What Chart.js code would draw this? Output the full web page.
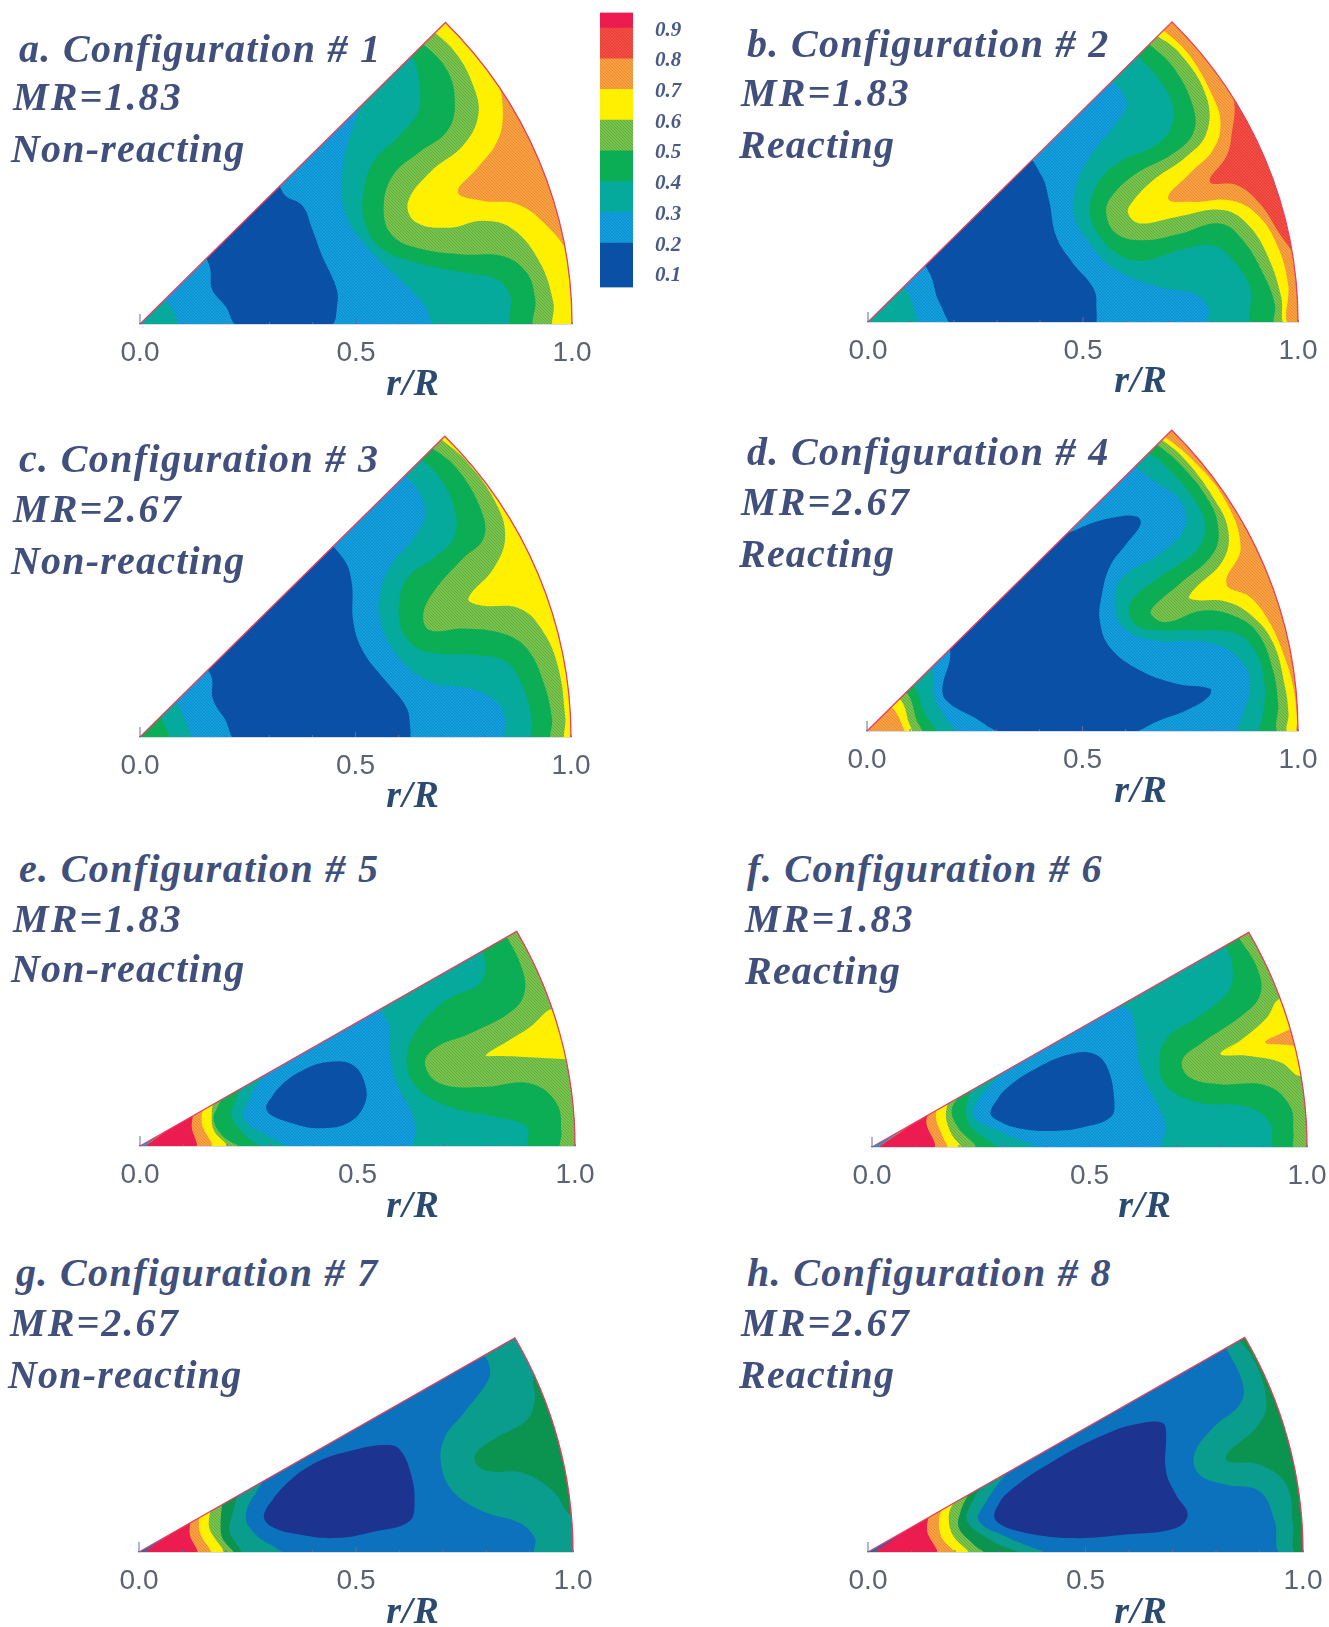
<!DOCTYPE html>
<html><head><meta charset="utf-8">
<script src="https://cdn.jsdelivr.net/npm/chart.js@4/dist/chart.umd.min.js"></script>
<style>
html,body{margin:0;padding:0;background:#fff}
#page{position:relative;width:1329px;height:1627px;overflow:hidden;background:#fff}
canvas{position:absolute;display:block}
.t{position:absolute;white-space:nowrap;font-family:"Liberation Serif",serif;font-weight:bold;font-style:italic;color:#404f7c;line-height:1;font-size:40px}
.rr{color:#2b4a70;font-size:38px;letter-spacing:1px}
</style></head><body><div id="page"></div>
<script>
// ---------- tick labels / categories ----------
const xTicks=[0,.1,.2,.3,.4,.5,.6,.7,.8,.9,1];
const xLabelled=[0,.5,1];
const barTicks=[.1,.2,.3,.4,.5,.6,.7,.8,.9];
const barEdges=[.063,.207,.307,.407,.507,.607,.707,.807,.907,.957];
const axisTitle='r/R';
const headA=['a. Configuration # 1','MR=1.83','Non-reacting'];
const headB=['b. Configuration # 2','MR=1.83','Reacting'];
const headC=['c. Configuration # 3','MR=2.67','Non-reacting'];
const headD=['d. Configuration # 4','MR=2.67','Reacting'];
const headE=['e. Configuration # 5','MR=1.83','Non-reacting'];
const headF=['f. Configuration # 6','MR=1.83','Reacting'];
const headG=['g. Configuration # 7','MR=2.67','Non-reacting'];
const headH=['h. Configuration # 8','MR=2.67','Reacting'];

// ---------- contour boundaries, in (r/R x, r/R y) ----------
const FAR=[[1.08,-.03],[1.08,.9],[.6,.9]];
const APEX=[[-.03,-.03]];
const BASE=[[-.1,-.1],[1.15,-.1],[1.15,1],[-.1,1]];

const a_apex=[[.03,.09],[.05,.057],[.074,.037],[.084,-.02]];
const a_dark=[[.151,.188],[.306,.336],[.337,.297],[.376,.274],[.399,.219],[.422,.157],[.453,.088],[.457,.049],[.438,-.005],[.229,-.005],[.198,.041],[.167,.08],[.163,.126]];
const a_teal=[[.531,.545],[.5,.475],[.469,.359],[.477,.25],[.531,.173],[.593,.111],[.655,.049],[.694,-.013]];
const a_green=[[.624,.63],[.64,.595],[.649,.529],[.64,.483],[.593,.429],[.539,.374],[.516,.297],[.523,.227],[.562,.173],[.64,.142],[.748,.119],[.826,.103],[.857,.064],[.864,-.013]];
const a_light=[[.632,.669],[.709,.591],[.729,.506],[.709,.444],[.647,.398],[.585,.343],[.564,.266],[.585,.204],[.655,.173],[.748,.161],[.841,.157],[.895,.119],[.915,.057],[.917,-.013]];
const a_yellow=[[.667,.688],[.729,.63],[.771,.553],[.783,.483],[.748,.413],[.671,.351],[.62,.281],[.64,.235],[.717,.223],[.795,.239],[.864,.219],[.926,.142],[.957,.049],[.961,-.013]];
const a_orange=[[.829,.584],[.84,.483],[.826,.421],[.779,.359],[.736,.305],[.795,.285],[.872,.278],[.934,.235],[.996,.157]];

const b_apex=[[.05,.11],[.085,.078],[.109,.027],[.112,-.02]];
const b_dark=[[.132,.163],[.36,.384],[.403,.341],[.421,.283],[.438,.198],[.477,.136],[.523,.081],[.531,.043],[.519,-.012],[.209,-.012],[.167,.043],[.15,.097]];
const b_teal=[[.554,.57],[.593,.531],[.601,.5],[.57,.453],[.516,.384],[.484,.314],[.481,.244],[.516,.182],[.578,.12],[.678,.081],[.756,.066],[.791,.035],[.795,-.012]];
const b_green=[[.616,.628],[.678,.562],[.709,.5],[.702,.446],[.663,.407],[.593,.376],[.539,.329],[.516,.26],[.539,.198],[.593,.151],[.647,.143],[.725,.167],[.802,.178],[.849,.143],[.888,.081],[.899,-.012]];
const b_light=[[.647,.651],[.709,.593],[.756,.5],[.756,.438],[.709,.391],[.624,.345],[.566,.291],[.554,.252],[.578,.205],[.64,.19],[.725,.205],[.818,.229],[.872,.19],[.919,.112],[.946,.043],[.95,-.012]];
const b_yellow=[[.663,.671],[.725,.624],[.787,.523],[.787,.438],[.74,.384],[.663,.329],[.612,.275],[.605,.252],[.632,.229],[.717,.244],[.826,.26],[.888,.221],[.934,.143],[.961,.058],[.973,-.012]];
const b_orange=[[.678,.686],[.744,.624],[.802,.523],[.82,.461],[.802,.399],[.748,.345],[.698,.287],[.756,.279],[.841,.283],[.903,.252],[.95,.182],[.977,.089],[.981,-.012]];
const b_red=[[.802,.609],[.849,.523],[.845,.43],[.833,.384],[.795,.326],[.857,.318],[.911,.275],[.957,.205],[1.004,.136]];

const c_apexTeal=[[.06,.11],[.088,.074],[.103,.043],[.115,-.02]];
const c_apexGreen=[[.03,.07],[.049,.043],[.067,-.02]];
const c_dark=[[.15,.19],[.425,.446],[.471,.415],[.491,.36],[.495,.267],[.518,.198],[.572,.128],[.611,.081],[.625,.043],[.615,-.012],[.231,-.012],[.196,.043],[.169,.089],[.167,.136]];
const c_teal=[[.591,.624],[.642,.578],[.661,.516],[.634,.461],[.588,.407],[.557,.337],[.56,.26],[.603,.182],[.673,.128],[.766,.112],[.828,.081],[.847,.043],[.851,-.012]];
const c_green=[[.642,.655],[.696,.601],[.731,.523],[.727,.461],[.681,.415],[.619,.368],[.6,.291],[.619,.229],[.665,.198],[.781,.19],[.851,.174],[.89,.112],[.909,.043],[.915,-.012]];
const c_light=[[.669,.678],[.735,.624],[.793,.523],[.797,.461],[.75,.415],[.681,.337],[.657,.283],[.673,.248],[.75,.252],[.843,.24],[.898,.205],[.936,.128],[.956,.043],[.958,-.012]];
const c_yellow=[[.696,.694],[.758,.64],[.828,.539],[.847,.461],[.82,.391],[.762,.322],[.789,.306],[.882,.298],[.936,.244],[.971,.159],[.987,.043],[.99,-.012]];

const d_dark=[[.432,.439],[.509,.478],[.579,.497],[.625,.498],[.635,.481],[.602,.435],[.563,.381],[.544,.311],[.54,.257],[.563,.195],[.633,.141],[.718,.11],[.796,.098],[.792,.079],[.741,.048],[.68,.025],[.602,-.006],[.324,-.006],[.246,.033],[.184,.071],[.175,.102],[.192,.164],[.2,.226]];
const d_lTeal=[[.146,.168],[.153,.133],[.157,.079],[.18,.033],[.204,-.006]];
const d_lGreen=[[.099,.118],[.118,.087],[.134,.04],[.157,-.006]];
const d_lLight=[[.08,.102],[.099,.079],[.115,.025],[.126,-.006]];
const d_lYellow=[[.064,.087],[.084,.063],[.095,.025],[.101,-.006]];
const d_lOrange=[[.049,.063],[.064,.048],[.08,.017],[.084,-.006]];
const d_teal=[[.61,.625],[.664,.582],[.726,.536],[.738,.474],[.68,.412],[.594,.358],[.575,.303],[.594,.241],[.664,.211],[.803,.203],[.873,.156],[.889,.102],[.873,.04],[.865,-.006]];
const d_green=[[.641,.652],[.687,.621],[.761,.536],[.784,.474],[.765,.42],[.68,.358],[.614,.303],[.61,.265],[.641,.238],[.757,.234],[.858,.226],[.904,.18],[.923,.102],[.919,.04],[.916,-.006]];
const d_light=[[.664,.671],[.718,.628],[.788,.543],[.815,.474],[.803,.412],[.726,.342],[.664,.288],[.66,.269],[.695,.253],[.78,.28],[.858,.265],[.908,.226],[.942,.141],[.954,.063],[.957,-.006]];
const d_yellow=[[.676,.683],[.733,.636],[.803,.543],[.838,.466],[.826,.396],[.757,.327],[.749,.307],[.834,.3],[.896,.265],[.943,.203],[.97,.102],[.978,.04],[.978,-.006]];
const d_orange=[[.683,.69],[.749,.636],[.827,.543],[.867,.427],[.834,.342],[.889,.311],[.931,.257],[.966,.18],[.989,.102],[.998,.025],[1,-.006]];

const e_lTeal=[[.299,.182],[.253,.113],[.241,.06],[.299,.021],[.337,-.005]];
const e_lGreen=[[.238,.152],[.222,.113],[.211,.067],[.245,.021],[.272,-.005]];
const e_lLight=[[.192,.117],[.178,.09],[.169,.06],[.192,.021],[.226,-.005]];
const e_lYellow=[[.169,.106],[.165,.075],[.169,.037],[.199,-.005]];
const e_lOrange=[[.146,.098],[.142,.052],[.161,-.005]];
const e_lRed=[[.123,.079],[.119,.044],[.126,-.005]];
const e_teal=[[.54,.328],[.571,.282],[.575,.213],[.59,.144],[.621,.083],[.634,.037],[.632,-.005]];
const e_green=[[.785,.462],[.793,.42],[.782,.374],[.705,.336],[.636,.267],[.613,.198],[.636,.136],[.713,.09],[.82,.067],[.889,.044],[.897,-.005]];
const e_light=[[.839,.489],[.874,.42],[.885,.359],[.858,.313],[.759,.259],[.682,.228],[.655,.19],[.69,.144],[.789,.136],[.897,.144],[.958,.098],[.969,.029],[.969,-.005]];
const e_yellow=[[.795,.209],[.843,.24],[.897,.274],[.95,.316],[.996,.29],[1.004,.198],[.973,.2],[.881,.205],[.82,.207]];
const e_dark=[[.291,.083],[.314,.129],[.375,.175],[.437,.194],[.49,.186],[.517,.144],[.517,.098],[.483,.056],[.421,.041],[.352,.052]];

const f_lTeal=[[.32,.191],[.243,.107],[.235,.069],[.304,.031],[.373,-.004]];
const f_lGreen=[[.228,.134],[.216,.084],[.228,.046],[.281,-.004]];
const f_lLight=[[.201,.119],[.183,.084],[.197,.046],[.235,-.004]];
const f_lYellow=[[.174,.103],[.17,.069],[.182,.031],[.201,-.004]];
const f_lOrange=[[.148,.092],[.148,.061],[.163,.023],[.17,-.004]];
const f_lRed=[[.128,.076],[.125,.054],[.14,-.004]];
const f_teal=[[.564,.329],[.595,.31],[.606,.26],[.618,.176],[.656,.099],[.675,.046],[.671,-.004]];
const f_green=[[.813,.463],[.828,.42],[.82,.359],[.748,.298],[.679,.252],[.66,.191],[.679,.138],[.748,.103],[.862,.092],[.916,.054],[.927,-.004]];
const f_light=[[.843,.482],[.885,.413],[.893,.352],[.855,.306],[.755,.237],[.713,.199],[.729,.161],[.794,.145],[.908,.141],[.962,.092],[.969,.031],[.973,-.004]];
const f_yellow=[[.801,.214],[.847,.245],[.908,.298],[.935,.34],[.969,.336],[1.007,.214],[.985,.164],[.939,.195],[.862,.21]];
const f_orange=[[.904,.241],[.962,.271],[.992,.275],[.992,.233],[.954,.235]];
const f_dark=[[.272,.08],[.304,.13],[.381,.183],[.457,.214],[.511,.214],[.541,.183],[.557,.107],[.549,.069],[.488,.046],[.419,.037],[.342,.042],[.289,.061]];

const g_lTeal=[[.285,.163],[.246,.086],[.269,.04],[.315,.009],[.335,-.006]];
const g_lGreen=[[.227,.132],[.215,.086],[.208,.048],[.231,-.006]];
const g_lLight=[[.192,.117],[.188,.063],[.192,.032],[.215,-.006]];
const g_lYellow=[[.165,.102],[.162,.055],[.19,-.006]];
const g_lOrange=[[.142,.09],[.138,.071],[.142,.04],[.162,-.006]];
const g_lRed=[[.119,.075],[.117,.04],[.131,-.006]];
const g_teal=[[.792,.463],[.808,.425],[.804,.394],[.746,.317],[.704,.263],[.696,.202],[.723,.14],[.792,.094],[.877,.067],[.912,.032],[.915,-.006]];
const g_green=[[.912,.436],[.908,.394],[.912,.348],[.892,.302],[.823,.263],[.777,.228],[.777,.202],[.808,.186],[.885,.182],[.954,.14],[.992,.086],[1.012,.086]];
const g_navy=[[.288,.086],[.323,.14],[.4,.202],[.5,.236],[.577,.246],[.604,.232],[.627,.178],[.635,.117],[.623,.071],[.546,.048],[.454,.032],[.369,.04],[.304,.059]];

const h_lTeal=[[.332,.201],[.267,.109],[.255,.071],[.324,.032],[.401,-.006]];
const h_lGreen=[[.27,.163],[.24,.117],[.228,.071],[.286,.025],[.347,-.006]];
const h_lLight=[[.232,.136],[.213,.094],[.209,.055],[.243,.017],[.267,-.006]];
const h_lYellow=[[.201,.121],[.186,.086],[.194,.04],[.228,-.006]];
const h_lOrange=[[.17,.101],[.163,.071],[.17,.032],[.197,-.006]];
const h_lRed=[[.14,.086],[.136,.048],[.155,-.006]];
const h_teal=[[.819,.478],[.862,.386],[.854,.339],[.793,.286],[.75,.224],[.762,.178],[.823,.155],[.9,.14],[.935,.071],[.95,-.006]];
const h_green=[[.85,.493],[.892,.432],[.916,.339],[.892,.286],[.827,.228],[.827,.209],[.9,.201],[.962,.155],[.977,.063],[.985,-.006]];
const h_navy=[[.29,.086],[.316,.132],[.439,.217],[.562,.278],[.631,.297],[.677,.297],[.685,.278],[.685,.186],[.708,.132],[.735,.086],[.708,.055],[.593,.04],[.47,.032],[.363,.044],[.305,.063]];

// ---------- styling ----------
function dither(a,b){const c=document.createElement('canvas');c.width=c.height=3;const x=c.getContext('2d');x.fillStyle=a;x.fillRect(0,0,3,3);x.fillStyle=b;for(let i=0;i<3;i++)x.fillRect(i,i,1,1);return x.createPattern(c,'repeat');}
const C={navy:'#1d3390',dark:'#0a50a6',blue:dither('#14a0dc','#0a8ccf'),blue2:'#0c72be',teal:'#05aa9c',teal2:'#0a9c8c',green:'#0bae54',green2:'#0a9450',light:dither('#7fc24a','#58b148'),yellow:'#fff000',orange:dither('#f6a23e','#ee8a38'),red:dither('#f0503c','#e93844'),crimson:'#ec1c50'};
const barColors=[C.dark,C.blue,C.teal,C.green,C.light,C.yellow,C.orange,C.red,C.crimson];
const R=c=>c.concat(FAR), L=c=>c.concat(APEX), I=c=>c.concat(c.slice(0,2));
const WEDGE_RY=.987;

const panels=[
 {head:headA,ax:140,ay:324,r:432,deg:45,lines:[[19,62],[13,110],[11,162]],title:[413,381],layers:[[C.blue,BASE],[C.teal,L(a_apex)],[C.dark,I(a_dark)],[C.teal,R(a_teal)],[C.green,R(a_green)],[C.light,R(a_light)],[C.yellow,R(a_yellow)],[C.orange,R(a_orange)]]},
 {head:headB,ax:868,ay:322,r:430,deg:45,lines:[[747,57],[741,106],[739,158]],title:[1141,378],layers:[[C.blue,BASE],[C.teal,L(b_apex)],[C.dark,I(b_dark)],[C.teal,R(b_teal)],[C.green,R(b_green)],[C.light,R(b_light)],[C.yellow,R(b_yellow)],[C.orange,R(b_orange)],[C.red,R(b_red)]]},
 {head:headC,ax:140,ay:737,r:431,deg:45,lines:[[19,472],[13,522],[11,574]],title:[413,793],layers:[[C.blue,BASE],[C.teal,L(c_apexTeal)],[C.green,L(c_apexGreen)],[C.dark,I(c_dark)],[C.teal,R(c_teal)],[C.green,R(c_green)],[C.light,R(c_light)],[C.yellow,R(c_yellow)]]},
 {head:headD,ax:867,ay:731,r:431,deg:45,lines:[[747,465],[741,515],[739,567]],title:[1141,788],layers:[[C.blue,BASE],[C.dark,I(d_dark)],[C.teal,L(d_lTeal)],[C.green,L(d_lGreen)],[C.light,L(d_lLight)],[C.yellow,L(d_lYellow)],[C.orange,L(d_lOrange)],[C.teal,R(d_teal)],[C.green,R(d_green)],[C.light,R(d_light)],[C.yellow,R(d_yellow)],[C.orange,R(d_orange)]]},
 {head:headE,ax:140,ay:1146,r:435,deg:30,lines:[[19,882],[13,932],[11,982]],title:[413,1203],layers:[[C.blue,BASE],[C.teal,L(e_lTeal)],[C.green,L(e_lGreen)],[C.light,L(e_lLight)],[C.yellow,L(e_lYellow)],[C.orange,L(e_lOrange)],[C.crimson,L(e_lRed)],[C.teal,R(e_teal)],[C.green,R(e_green)],[C.light,R(e_light)],[C.yellow,I(e_yellow)],[C.dark,I(e_dark)]]},
 {head:headF,ax:872,ay:1147,r:435,deg:30,lines:[[747,882],[745,932],[745,984]],title:[1145,1203],layers:[[C.blue,BASE],[C.teal,L(f_lTeal)],[C.green,L(f_lGreen)],[C.light,L(f_lLight)],[C.yellow,L(f_lYellow)],[C.orange,L(f_lOrange)],[C.crimson,L(f_lRed)],[C.teal,R(f_teal)],[C.green,R(f_green)],[C.light,R(f_light)],[C.yellow,I(f_yellow)],[C.orange,I(f_orange)],[C.dark,I(f_dark)]]},
 {head:headG,ax:139,ay:1552,r:434,deg:30,lines:[[16,1286],[10,1336],[8,1388]],title:[413,1609],layers:[[C.blue2,BASE],[C.teal2,L(g_lTeal)],[C.green2,L(g_lGreen)],[C.light,L(g_lLight)],[C.yellow,L(g_lYellow)],[C.orange,L(g_lOrange)],[C.crimson,L(g_lRed)],[C.teal2,R(g_teal)],[C.green2,R(g_green)],[C.navy,I(g_navy)]]},
 {head:headH,ax:868,ay:1552,r:435,deg:30,lines:[[747,1286],[741,1336],[739,1388]],title:[1141,1609],layers:[[C.blue2,BASE],[C.teal2,L(h_lTeal)],[C.green2,L(h_lGreen)],[C.light,L(h_lLight)],[C.yellow,L(h_lYellow)],[C.orange,L(h_lOrange)],[C.crimson,L(h_lRed)],[C.teal2,R(h_teal)],[C.green2,R(h_green)],[C.navy,I(h_navy)]]}
];
const lineSpacing=[1.35,2.1,1.2];

Chart.defaults.animation=false;
const page=document.getElementById('page');
const wedgePath=(ctx,x0,y0,rad,a)=>{ctx.beginPath();ctx.moveTo(x0,y0);ctx.lineTo(x0+rad*Math.cos(a),y0-rad*WEDGE_RY*Math.sin(a));ctx.ellipse(x0,y0,rad,rad*WEDGE_RY,0,-a,0);};
const wedge={id:'wedge',
 beforeDatasetsDraw(ch,_,o){const {x,y}=ch.scales,x0=x.getPixelForValue(0),y0=y.getPixelForValue(0);ch.ctx.save();wedgePath(ch.ctx,x0,y0,x.getPixelForValue(1)-x0,o.deg*Math.PI/180);ch.ctx.closePath();ch.ctx.clip();},
 afterDatasetsDraw(ch,_,o){const c=ch.ctx,{x,y}=ch.scales,x0=x.getPixelForValue(0),y0=y.getPixelForValue(0),rad=x.getPixelForValue(1)-x0,a=o.deg*Math.PI/180;c.restore();c.save();
  c.strokeStyle='#e8405f';c.lineWidth=1.3;wedgePath(c,x0,y0,rad,a);c.stroke();
  c.strokeStyle='#5c70a4';c.lineWidth=1;for(const t of x.ticks){const h=t.value===0?10:(Math.abs(t.value-.5)<1e-6?5:2),px=x.getPixelForValue(t.value);c.beginPath();c.moveTo(px,y0);c.lineTo(px,y0-h);c.stroke();}
  c.restore();}
};
function text(s,x,top,cls,spacing){const d=document.createElement('div');d.className=cls;d.textContent=s;d.style.left=x+'px';d.style.top=top+'px';if(spacing)d.style.letterSpacing=spacing+'px';page.appendChild(d);return d;}

panels.forEach(p=>{
 const ymax=p.deg===45?.72:.52, top=10, axisH=50, H=top+Math.round(ymax*p.r)+axisH, W=p.r+120;
 const cv=document.createElement('canvas');cv.width=W;cv.height=H;cv.style.left=(p.ax-60)+'px';cv.style.top=(p.ay-Math.round(ymax*p.r)-top)+'px';cv.style.width=W+'px';cv.style.height=H+'px';page.appendChild(cv);
 new Chart(cv,{type:'scatter',
  data:{datasets:p.layers.map(([col,pts],i)=>({data:pts.map(([x,y])=>({x,y})),showLine:true,fill:'shape',backgroundColor:col,borderColor:'transparent',borderWidth:0,pointRadius:0,tension:i===0?0:.4,capBezierPoints:false,order:p.layers.length-i}))},
  plugins:[wedge],
  options:{responsive:false,maintainAspectRatio:false,animation:false,events:[],
   layout:{padding:{left:60,right:60,top,bottom:0}},
   elements:{line:{capBezierPoints:false}},
   plugins:{legend:{display:false},tooltip:{enabled:false},wedge:{deg:p.deg}},
   scales:{
    x:{type:'linear',min:0,max:1,afterBuildTicks:s=>{s.ticks=xTicks.map(value=>({value}));},afterFit:s=>{s.height=axisH;},
      grid:{display:false},border:{display:true,color:'#5c70a4',width:1.2},
      ticks:{autoSkip:false,maxRotation:0,padding:4,color:'#5a6372',font:{family:'"Liberation Sans"',size:28},callback:v=>xLabelled.some(t=>Math.abs(t-v)<1e-6)?Number(v).toFixed(1):''}},
    y:{type:'linear',min:0,max:ymax,display:false}
   }}});
 p.head.forEach((s,i)=>text(s,p.lines[i][0],p.lines[i][1]-33.5,'t',lineSpacing[i]));
 const tt=text(axisTitle,p.title[0],p.title[1]-18,'t rr');tt.style.transform='translateX(-50%)';
});

// colour bar
const cb=document.createElement('canvas');cb.width=110;cb.height=300;cb.style.left='590px';cb.style.top='0';cb.style.width='110px';cb.style.height='300px';page.appendChild(cb);
new Chart(cb,{type:'bar',
 data:{labels:['level'],datasets:barColors.map((col,i)=>({data:[[barEdges[i],barEdges[i+1]]],backgroundColor:col,categoryPercentage:1,barPercentage:1,borderWidth:0}))},
 options:{responsive:false,maintainAspectRatio:false,animation:false,events:[],
  layout:{padding:{left:10,right:0,top:10,bottom:12}},
  plugins:{legend:{display:false},tooltip:{enabled:false}},
  scales:{
   x:{stacked:true,display:false},
   y:{stacked:false,position:'right',min:barEdges[0],max:barEdges[barEdges.length-1],afterBuildTicks:s=>{s.ticks=barTicks.map(value=>({value}));},afterFit:s=>{s.width=67;},
     grid:{display:true,drawOnChartArea:false,tickLength:22,tickColor:'transparent'},border:{display:false},
     ticks:{padding:0,color:'#4a5a88',font:{family:'"Liberation Serif"',size:21,style:'italic',weight:'bold'},callback:v=>Number(v).toFixed(1)}}
  }}});
</script></body></html>
